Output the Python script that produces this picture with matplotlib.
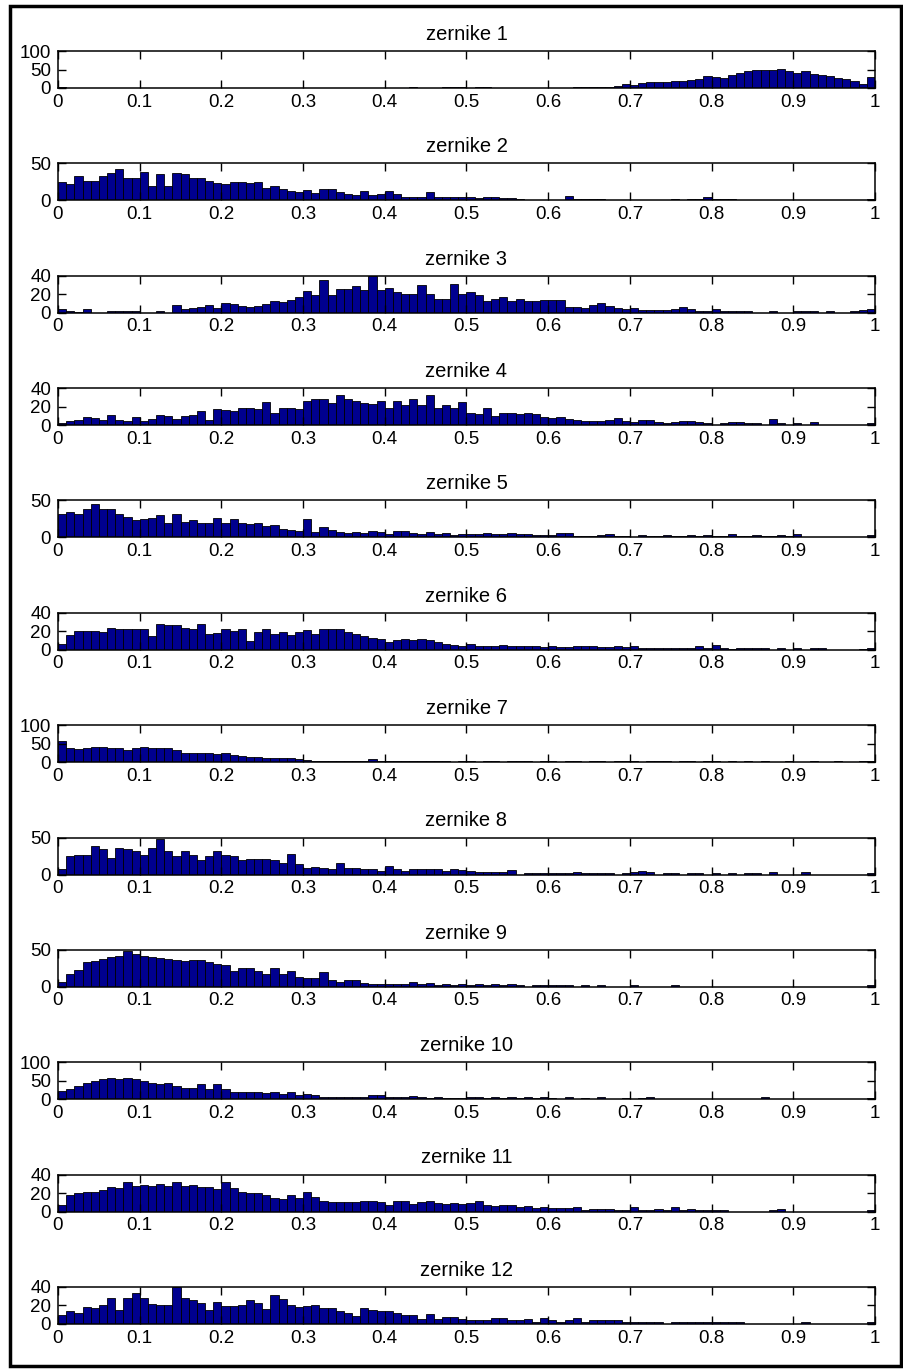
import numpy as np
import matplotlib.pyplot as plt
from matplotlib.patches import Rectangle

plt.rcParams['font.family'] = ['Liberation Sans', 'DejaVu Sans']

# bin edges (100 bins over [0, 1])
edges = np.linspace(0, 1, 101)

# histogram counts, one list per zernike moment
z1 = [2, 0, 0, 0, 0, 0, 0, 0, 0, 0,
      0, 0, 0, 0, 0, 0, 0, 0, 0, 0,
      0, 0, 0, 0, 0, 0, 0, 0, 0, 0,
      0, 0, 0, 0, 0, 0, 0, 0, 0, 0,
      0, 0, 0, 2, 0, 0, 0, 2, 2, 2,
      0, 2, 2, 0, 0, 1, 1, 1, 1, 1,
      1, 1, 0, 3, 4, 4, 4, 4, 6, 10,
      8, 14, 16, 17, 17, 19, 20, 21, 25, 33,
      30, 28, 35, 40, 45, 50, 50, 48, 52, 45,
      40, 45, 38, 35, 32, 28, 25, 18, 10, 30]
z2 = [25, 22, 33, 26, 26, 33, 37, 43, 30, 30,
      39, 20, 35, 20, 37, 35, 30, 30, 26, 24,
      22, 25, 25, 24, 25, 17, 20, 15, 13, 11,
      14, 10, 15, 15, 11, 8, 7, 13, 7, 9,
      13, 8, 5, 5, 5, 11, 4, 5, 4, 4,
      5, 3, 4, 4, 3, 3, 2, 0, 0, 0,
      0, 0, 6, 2, 2, 2, 2, 0, 0, 0,
      0, 0, 0, 0, 0, 2, 0, 2, 2, 4,
      2, 2, 2, 0, 0, 0, 0, 0, 0, 0,
      0, 0, 0, 0, 0, 0, 0, 0, 0, 2]
z3 = [4, 2, 1, 4, 0, 0, 2, 2, 2, 2,
      0, 0, 2, 0, 8, 4, 5, 6, 8, 5,
      11, 9, 7, 6, 7, 9, 13, 12, 14, 17,
      24, 19, 35, 19, 26, 26, 29, 25, 40, 25,
      27, 22, 20, 20, 30, 20, 15, 15, 31, 20,
      22, 19, 13, 15, 17, 13, 15, 13, 13, 14,
      14, 14, 6, 6, 5, 8, 11, 7, 5, 4,
      5, 3, 3, 3, 3, 4, 6, 4, 2, 2,
      4, 2, 2, 2, 2, 0, 0, 2, 0, 0,
      2, 2, 2, 0, 2, 0, 0, 2, 3, 4]
z4 = [2, 4, 5, 9, 8, 6, 11, 5, 4, 9,
      4, 7, 11, 10, 7, 10, 11, 15, 5, 17,
      16, 15, 18, 19, 17, 25, 13, 18, 18, 17,
      26, 28, 28, 24, 32, 28, 26, 24, 23, 26,
      19, 26, 22, 28, 22, 32, 19, 22, 19, 25,
      13, 12, 19, 10, 13, 13, 12, 13, 12, 9,
      8, 9, 7, 5, 4, 4, 4, 6, 8, 4,
      3, 6, 5, 3, 2, 3, 4, 4, 3, 2,
      0, 2, 3, 3, 2, 2, 0, 7, 2, 0,
      2, 0, 3, 0, 0, 0, 0, 0, 0, 2]
z5 = [32, 35, 32, 39, 45, 39, 38, 32, 27, 23,
      25, 26, 30, 20, 32, 21, 23, 20, 20, 26,
      20, 25, 20, 18, 20, 16, 17, 11, 10, 9,
      25, 7, 14, 10, 7, 6, 8, 6, 9, 7,
      5, 9, 9, 6, 5, 7, 5, 6, 3, 5,
      4, 4, 6, 4, 4, 6, 4, 4, 3, 3,
      3, 6, 6, 2, 2, 2, 3, 4, 2, 2,
      1, 3, 2, 2, 3, 2, 2, 3, 2, 3,
      2, 2, 4, 2, 2, 3, 2, 2, 3, 2,
      4, 0, 0, 0, 0, 0, 0, 0, 0, 3]
z6 = [6, 16, 20, 20, 20, 19, 24, 23, 22, 22,
      23, 15, 28, 27, 27, 24, 22, 28, 17, 18,
      23, 20, 22, 10, 19, 22, 17, 19, 16, 19,
      21, 17, 23, 23, 22, 19, 17, 15, 13, 12,
      8, 11, 12, 11, 12, 11, 8, 6, 5, 4,
      6, 4, 4, 4, 5, 4, 4, 4, 4, 3,
      4, 3, 3, 4, 4, 4, 3, 3, 4, 3,
      4, 2, 2, 2, 2, 2, 2, 2, 4, 2,
      5, 2, 1, 2, 2, 2, 2, 0, 2, 0,
      2, 0, 2, 2, 0, 0, 0, 0, 1, 2]
z7 = [57, 37, 35, 37, 41, 41, 38, 37, 32, 37,
      41, 38, 37, 37, 32, 25, 25, 25, 25, 22,
      25, 19, 17, 15, 15, 12, 10, 10, 10, 8,
      6, 4, 4, 4, 4, 4, 4, 4, 8, 4,
      3, 3, 3, 3, 3, 3, 3, 2, 0, 3,
      2, 0, 2, 3, 0, 2, 3, 2, 0, 2,
      3, 0, 2, 2, 0, 3, 2, 0, 2, 3,
      2, 0, 2, 3, 2, 0, 2, 2, 0, 3,
      2, 0, 2, 0, 2, 0, 3, 0, 0, 2,
      0, 0, 2, 0, 0, 3, 0, 0, 2, 3]
z8 = [7, 25, 26, 27, 39, 35, 23, 36, 34, 32,
      27, 36, 48, 32, 25, 32, 27, 20, 25, 32,
      27, 25, 19, 21, 21, 21, 19, 16, 28, 14,
      9, 10, 9, 7, 16, 9, 9, 8, 8, 5,
      11, 7, 5, 8, 8, 7, 7, 5, 8, 6,
      5, 4, 4, 4, 3, 6, 0, 2, 2, 2,
      2, 2, 2, 4, 2, 2, 2, 2, 0, 2,
      3, 5, 3, 0, 2, 2, 0, 2, 2, 0,
      2, 0, 2, 0, 2, 2, 0, 3, 0, 0,
      0, 3, 0, 0, 0, 0, 0, 0, 0, 2]
z9 = [7, 18, 23, 33, 35, 38, 40, 42, 48, 45,
      42, 41, 39, 38, 36, 35, 36, 37, 33, 31,
      29, 22, 26, 25, 22, 18, 26, 18, 22, 14,
      12, 12, 20, 9, 7, 9, 9, 5, 4, 4,
      4, 4, 4, 6, 4, 5, 3, 4, 2, 4,
      2, 4, 2, 4, 2, 4, 2, 0, 2, 2,
      2, 2, 2, 0, 2, 0, 2, 0, 0, 0,
      3, 0, 0, 0, 0, 3, 0, 0, 0, 0,
      0, 0, 0, 0, 0, 0, 0, 0, 0, 0,
      0, 0, 0, 0, 0, 0, 0, 0, 0, 2]
z10 = [21, 28, 35, 43, 49, 56, 58, 54, 58, 54,
       49, 44, 40, 43, 37, 31, 31, 40, 28, 40,
       28, 19, 19, 19, 19, 17, 19, 15, 19, 12,
       15, 12, 7, 7, 7, 7, 7, 7, 12, 12,
       6, 6, 6, 9, 6, 4, 6, 3, 3, 3,
       6, 6, 3, 6, 3, 6, 3, 7, 3, 7,
       3, 0, 6, 0, 3, 0, 6, 0, 0, 3,
       0, 3, 6, 0, 0, 0, 0, 0, 0, 0,
       0, 0, 0, 0, 0, 0, 7, 0, 0, 0,
       0, 0, 0, 0, 0, 0, 0, 0, 0, 3]
z11 = [7, 18, 20, 21, 21, 23, 27, 25, 32, 28,
       29, 28, 30, 28, 32, 28, 29, 27, 27, 24,
       32, 25, 21, 20, 20, 18, 15, 14, 18, 15,
       21, 16, 12, 10, 10, 10, 10, 12, 12, 10,
       7, 12, 11, 8, 10, 11, 9, 8, 9, 8,
       9, 11, 7, 6, 7, 7, 5, 6, 4, 5,
       4, 4, 4, 5, 2, 3, 3, 3, 2, 2,
       5, 2, 2, 3, 2, 5, 2, 3, 2, 2,
       2, 2, 0, 0, 0, 0, 0, 2, 3, 0,
       0, 0, 0, 0, 0, 0, 0, 0, 0, 2]
z12 = [10, 14, 12, 18, 17, 21, 28, 15, 28, 33,
       28, 22, 21, 21, 40, 28, 26, 23, 15, 24,
       19, 19, 20, 26, 23, 16, 31, 27, 21, 18,
       19, 20, 17, 17, 14, 12, 9, 17, 15, 14,
       14, 12, 10, 10, 5, 11, 5, 8, 8, 5,
       4, 4, 4, 6, 6, 4, 4, 5, 2, 6,
       4, 2, 4, 6, 2, 4, 4, 4, 4, 2,
       2, 2, 2, 2, 0, 2, 2, 2, 2, 2,
       2, 2, 2, 2, 0, 0, 0, 0, 0, 0,
       0, 2, 0, 0, 0, 0, 0, 0, 0, 2]

counts = [z1, z2, z3, z4, z5, z6, z7, z8, z9, z10, z11, z12]
ymax = [100, 50, 40, 40, 50, 40, 100, 50, 50, 100, 40, 40]
yticks = {100: [0, 50, 100], 50: [0, 50], 40: [0, 20, 40]}
xticks = np.round(np.arange(0, 1.01, 0.1), 1)
xlabels = ['0'] + ['%.1f' % v for v in xticks[1:-1]] + ['1']

W, H = 904, 1370
fig = plt.figure(figsize=(W / 100, H / 100), dpi=100)

for i, c in enumerate(counts):
    top = 51 + i * 112.36
    ax = fig.add_axes([58 / W, 1 - (top + 37) / H, 817 / W, 37 / H])
    ax.bar(edges[:-1], c, width=0.01, align='edge',
           color='#00008f', edgecolor='black', linewidth=0.6)
    ax.set_xlim(0, 1)
    ax.set_ylim(0, ymax[i])
    ax.set_xticks(xticks)
    ax.set_xticklabels(xlabels)
    ax.set_yticks(yticks[ymax[i]])
    ax.tick_params(direction='in', top=True, right=True, length=6,
                   width=1, labelsize=13.5, colors='black')
    ax.tick_params(axis='x', pad=4)
    ax.tick_params(axis='y', pad=5)
    for s in ax.spines.values():
        s.set_linewidth(1.1)
    ax.set_title('zernike %d' % (i + 1), fontsize=14.5, pad=8)

# outer screenshot frame
fig.patches.append(Rectangle((10 / W, 4 / H), 891 / W, 1360 / H,
                             transform=fig.transFigure, fill=False,
                             edgecolor='black', linewidth=2.5))

fig.savefig('out.png', dpi=100)
